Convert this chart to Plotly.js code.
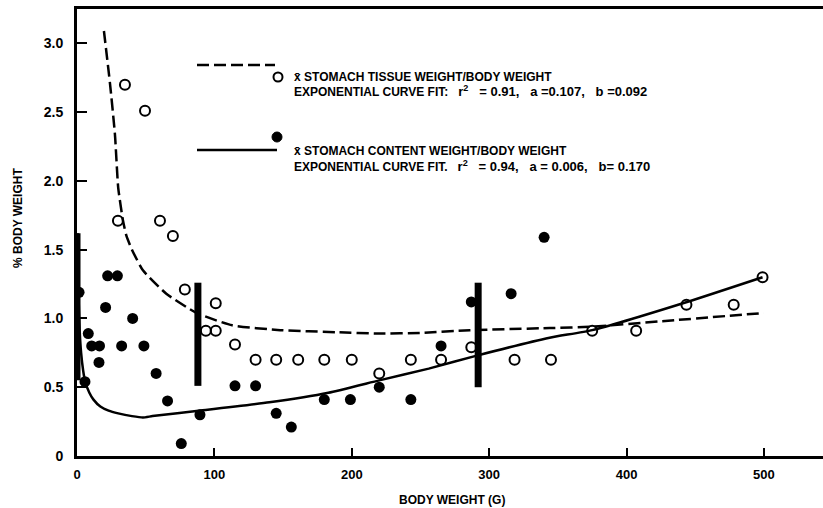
<!DOCTYPE html>
<html>
<head>
<meta charset="utf-8">
<script src="https://cdn.plot.ly/plotly-3.0.1.min.js"></script>
<style>html,body{margin:0;padding:0;background:#fff;}#chart{width:823px;height:508px;}</style>
</head>
<body>
<div id="chart"></div>
<script>
// Open circles: mean stomach tissue weight / body weight
const tissueX = [34.9, 49.5, 29.8, 60.4, 69.8, 78.5, 101, 93.8, 101, 115, 130, 145, 161, 180, 200, 220, 243, 265, 287, 318.5, 345, 375, 407, 443.6, 478, 499];
const tissueY = [2.70, 2.51, 1.71, 1.71, 1.60, 1.21, 1.11, 0.91, 0.91, 0.81, 0.70, 0.70, 0.70, 0.70, 0.70, 0.60, 0.70, 0.70, 0.79, 0.70, 0.70, 0.91, 0.91, 1.10, 1.10, 1.30];

// Filled circles: mean stomach content weight / body weight
const contentX = [1.5, 8.2, 10.7, 16.4, 16, 5.8, 20.8, 22.3, 29.4, 32.5, 40.5, 48.7, 57.6, 65.9, 75.9, 89.5, 115, 130, 145, 156, 180, 199, 220, 243, 265, 287, 316, 340];
const contentY = [1.19, 0.89, 0.80, 0.80, 0.68, 0.54, 1.08, 1.31, 1.31, 0.80, 1.00, 0.80, 0.60, 0.40, 0.09, 0.30, 0.51, 0.51, 0.31, 0.21, 0.41, 0.41, 0.50, 0.41, 0.80, 1.12, 1.18, 1.59];

// Fitted curves
const tissueFitX = [19.6, 24, 27.6, 30, 33.5, 36, 40, 48, 65, 87, 113, 148, 189, 220, 250, 286, 344, 375, 426, 500];
const tissueFitY = [3.09, 2.71, 2.34, 1.95, 1.71, 1.60, 1.50, 1.35, 1.18, 1.04, 0.95, 0.915, 0.90, 0.89, 0.895, 0.915, 0.93, 0.94, 0.98, 1.04];
const contentFitX = [0.5, 1, 2, 3, 4.5, 6, 9, 12, 17, 23, 30, 40, 48, 55, 90, 140, 183, 220, 256, 291, 344, 375, 444, 499];
const contentFitY = [1.62, 1.2, 0.9, 0.75, 0.62, 0.54, 0.46, 0.41, 0.36, 0.33, 0.31, 0.29, 0.28, 0.29, 0.33, 0.39, 0.46, 0.55, 0.635, 0.73, 0.86, 0.915, 1.12, 1.30];

// Thick vertical range bars
const barX = [0, 88, 292];
const barLow = [0.55, 0.51, 0.50];
const barHigh = [1.62, 1.26, 1.26];

// Axis ticks
const xTicks = [0, 100, 200, 300, 400, 500];
const xTickText = ['0', '100', '200', '300', '400', '500'];
const yTicks = [0, 0.5, 1.0, 1.5, 2.0, 2.5, 3.0];
const yTickText = ['0', '0.5', '1.0', '1.5', '2.0', '2.5', '3.0'];

const barLineX = [], barLineY = [];
barX.forEach((x, i) => { barLineX.push(x, x, null); barLineY.push(barLow[i], barHigh[i], null); });

const traces = [
  {x: barLineX, y: barLineY, mode: 'lines', line: {color: '#000', width: 7}, hoverinfo: 'skip'},
  {x: tissueFitX, y: tissueFitY, mode: 'lines', line: {color: '#000', width: 2.5, dash: '12px,5px', shape: 'spline', smoothing: 0.5}},
  {x: contentFitX, y: contentFitY, mode: 'lines', line: {color: '#000', width: 2.5, shape: 'spline', smoothing: 0.5}},
  {x: tissueX, y: tissueY, mode: 'markers', marker: {symbol: 'circle-open', size: 10, color: '#000', line: {width: 2, color: '#000'}}},
  {x: contentX, y: contentY, mode: 'markers', marker: {symbol: 'circle', size: 11, color: '#000'}}
];

const L = 77, T = 9, W = 746, H = 447;
const px = v => (v - L) / W;
const py = v => (T + H - v) / H;
const fam = 'Liberation Sans, Arial, sans-serif';
const f = (size) => ({family: fam, size: size, color: '#000', weight: 'bold'});
const sp = n => '\u00a0'.repeat(n);
const big = s => '<span style="font-size:13px">' + s + '</span>';

const layout = {
  width: 823, height: 508,
  margin: {l: 77, r: 0, t: 9, b: 52},
  paper_bgcolor: '#fff', plot_bgcolor: '#fff',
  showlegend: false,
  font: {family: fam, color: '#000'},
  xaxis: {
    range: [0, 543], tickvals: xTicks, ticktext: xTickText,
    ticks: 'inside', ticklen: 8, tickwidth: 2, tickcolor: '#000',
    showline: true, linewidth: 3, linecolor: '#000', mirror: true,
    showgrid: false, zeroline: false, ticklabelstandoff: 4,
    tickfont: f(13)
  },
  yaxis: {
    range: [0, 3.25], tickvals: yTicks, ticktext: yTickText,
    ticks: 'inside', ticklen: 10, tickwidth: 2, tickcolor: '#000',
    showline: true, linewidth: 3, linecolor: '#000',
    showgrid: false, zeroline: false, ticklabelstandoff: 8,
    tickfont: f(14)
  },
  shapes: [
    {type: 'line', xref: 'paper', yref: 'paper', x0: px(197), x1: px(275), y0: py(65), y1: py(65), line: {color: '#000', width: 2.5, dash: '12px,5px'}},
    {type: 'line', xref: 'paper', yref: 'paper', x0: px(197), x1: px(277), y0: py(150), y1: py(150), line: {color: '#000', width: 2.5}},
    {type: 'circle', xref: 'paper', yref: 'paper', xsizemode: 'pixel', ysizemode: 'pixel', xanchor: px(278), yanchor: py(77), x0: -4.5, x1: 4.5, y0: -4.5, y1: 4.5, line: {color: '#000', width: 2}},
    {type: 'circle', xref: 'paper', yref: 'paper', xsizemode: 'pixel', ysizemode: 'pixel', xanchor: px(277), yanchor: py(137), x0: -5, x1: 5, y0: -5, y1: 5, fillcolor: '#000', line: {color: '#000', width: 1}}
  ],
  annotations: [
    {xref: 'paper', yref: 'paper', x: px(292), y: py(77), xanchor: 'left', yanchor: 'middle', showarrow: false, text: 'x\u0304 STOMACH TISSUE WEIGHT/BODY WEIGHT', font: f(12)},
    {xref: 'paper', yref: 'paper', x: px(292), y: py(91), xanchor: 'left', yanchor: 'middle', showarrow: false,
      text: 'EXPONENTIAL CURVE FIT:' + sp(3) + big('r<sup>2</sup>' + sp(3) + '= 0.91,' + sp(3) + 'a =0.107,' + sp(3) + 'b =0.092'), font: f(12)},
    {xref: 'paper', yref: 'paper', x: px(292), y: py(151), xanchor: 'left', yanchor: 'middle', showarrow: false, text: 'x\u0304 STOMACH CONTENT WEIGHT/BODY WEIGHT', font: f(12)},
    {xref: 'paper', yref: 'paper', x: px(292), y: py(166), xanchor: 'left', yanchor: 'middle', showarrow: false,
      text: 'EXPONENTIAL CURVE FIT.' + sp(3) + big('r<sup>2</sup>' + sp(3) + '= 0.94,' + sp(3) + 'a = 0.006,' + sp(3) + 'b= 0.170'), font: f(12)},
    {xref: 'paper', yref: 'paper', x: px(452), y: py(500), xanchor: 'center', yanchor: 'middle', showarrow: false, text: 'BODY WEIGHT (G)', font: f(12)},
    {xref: 'paper', yref: 'paper', x: px(18), y: py(218), xanchor: 'center', yanchor: 'middle', showarrow: false, textangle: -90, text: '% BODY WEIGHT', font: f(12)}
  ]
};

Plotly.newPlot('chart', traces, layout, {displayModeBar: false, staticPlot: true});
</script>
</body>
</html>
